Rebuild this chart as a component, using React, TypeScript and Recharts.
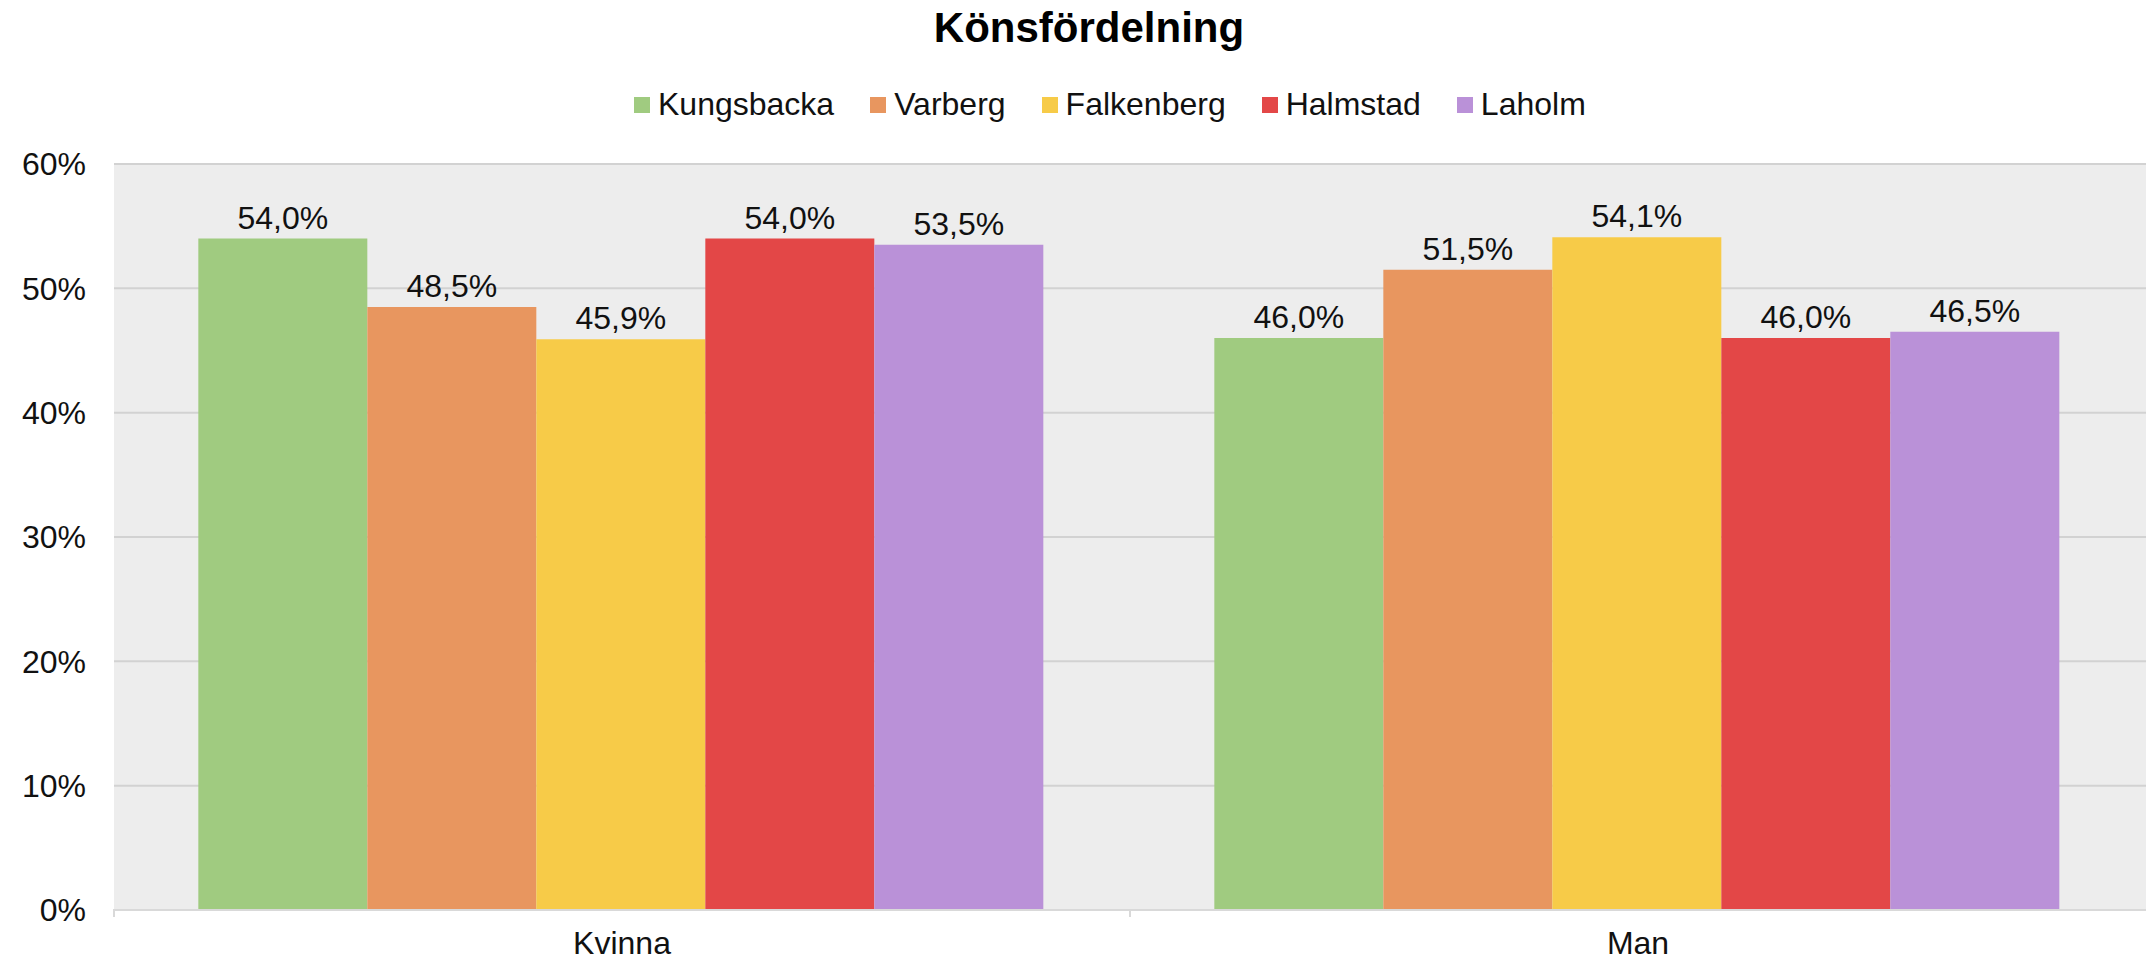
import { BarChart, Bar, XAxis, YAxis, CartesianGrid, LabelList } from 'recharts'

const W = 2146
const H = 961
const PLOT_LEFT = 114
const PLOT_RIGHT = 0

const categories = ['Kvinna', 'Man']
const seriesNames = ['Kungsbacka', 'Varberg', 'Falkenberg', 'Halmstad', 'Laholm']
const kungsbacka = [54.0, 46.0]
const varberg = [48.5, 51.5]
const falkenberg = [45.9, 54.1]
const halmstad = [54.0, 46.0]
const laholm = [53.5, 46.5]
const yTicks = [0, 10, 20, 30, 40, 50, 60]

const COLORS: Record<string, string> = {
    Kungsbacka: '#a0cb80',
    Varberg: '#e8965f',
    Falkenberg: '#f7cb48',
    Halmstad: '#e34747',
    Laholm: '#ba91d8',
}

const FONT = '"Liberation Sans", Arial, sans-serif'
const FS = 32

const data = categories.map((name, i) => ({
    name,
    Kungsbacka: kungsbacka[i],
    Varberg: varberg[i],
    Falkenberg: falkenberg[i],
    Halmstad: halmstad[i],
    Laholm: laholm[i],
}))

const fmt = (v: any) => `${Number(v).toFixed(1).replace('.', ',')}%`

// category tick with a small boundary mark on the left side of each band
const CategoryTick = (props: any) => {
    const { x, y, payload } = props
    const band = (W - PLOT_LEFT - PLOT_RIGHT) / categories.length
    const bx = x - band / 2
    return (
        <g>
            <line x1={bx} x2={bx} y1={y - 22} y2={y - 14} stroke="#d9d9d9" strokeWidth={2} />
            <text x={x} y={y} dy="0.71em" textAnchor="middle" fill="#111" fontSize={FS} fontFamily={FONT}>
                {payload.value}
            </text>
        </g>
    )
}

export default function App() {
    return (
        <div style={{ position: 'absolute', left: 0, top: 0, width: W, height: H, background: '#fff' }}>
            <div
                style={{
                    position: 'absolute',
                    top: 4,
                    left: 1089,
                    transform: 'translateX(-50%)',
                    fontFamily: FONT,
                    fontWeight: 700,
                    fontSize: 42,
                    color: '#000',
                    whiteSpace: 'nowrap',
                }}
            >
                Könsfördelning
            </div>
            <div
                style={{
                    position: 'absolute',
                    top: 86,
                    left: 634,
                    display: 'flex',
                    alignItems: 'center',
                    fontFamily: FONT,
                    fontSize: FS,
                    color: '#111',
                    whiteSpace: 'nowrap',
                }}
            >
                {seriesNames.map((s) => (
                    <div key={s} style={{ display: 'flex', alignItems: 'center', marginRight: 36 }}>
                        <span style={{ width: 16, height: 16, background: COLORS[s], display: 'inline-block', marginRight: 8 }} />
                        <span>{s}</span>
                    </div>
                ))}
            </div>
            <BarChart
                width={W}
                height={H}
                data={data}
                margin={{ top: 164, right: PLOT_RIGHT, bottom: 0, left: 0 }}
                barCategoryGap="8.3%"
                barGap={0}
            >
                <CartesianGrid vertical={false} fill="#ededed" stroke="#d2d2d2" strokeWidth={2} />
                <XAxis
                    dataKey="name"
                    height={51}
                    axisLine={{ stroke: '#d9d9d9', strokeWidth: 2 }}
                    tickLine={false}
                    tickSize={6}
                    tickMargin={15}
                    interval={0}
                    tick={<CategoryTick />}
                />
                <YAxis
                    width={PLOT_LEFT}
                    domain={[0, 60]}
                    ticks={yTicks}
                    axisLine={false}
                    tickLine={false}
                    tickSize={6}
                    tickMargin={22}
                    tickFormatter={(v) => `${v}%`}
                    tick={{ fill: '#111', fontSize: FS, fontFamily: FONT }}
                />
                {seriesNames.map((s) => (
                    <Bar key={s} dataKey={s} fill={COLORS[s]} isAnimationActive={false}>
                        <LabelList
                            dataKey={s}
                            position="top"
                            offset={10}
                            formatter={fmt}
                            fill="#111"
                            fontSize={FS}
                            fontFamily={FONT}
                        />
                    </Bar>
                ))}
            </BarChart>
        </div>
    )
}
